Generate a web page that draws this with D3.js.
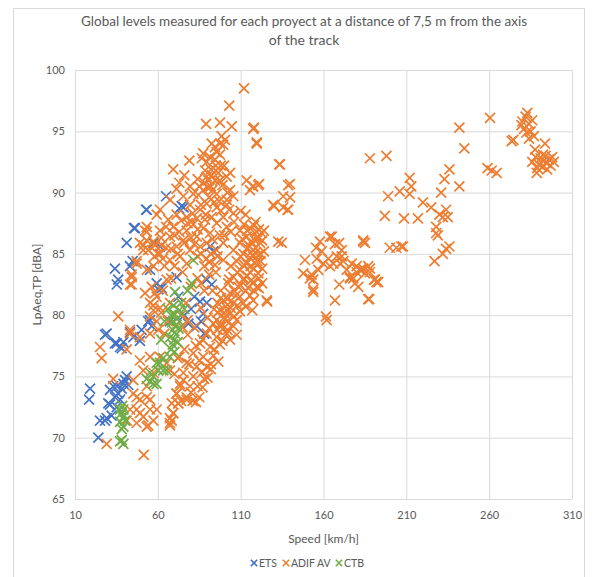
<!DOCTYPE html>
<html><head><meta charset="utf-8">
<script src="https://cdn.jsdelivr.net/npm/d3@7"></script>
<style>body{margin:0;background:#fff}svg{display:block}text{font-family:Lato,"Open Sans",sans-serif}</style>
</head><body><svg id="chart" width="593" height="577"></svg>
<script>
const titleLines = ["Global levels measured for each proyect at a distance of 7,5 m from the axis", "of the track"];
const xTitle = "Speed [km/h]";
const yTitle = "LpAeq,TP [dBA]";
const seriesNames = ["ETS", "ADIF AV", "CTB"];
const seriesColors = ["#4472C4", "#ED7D31", "#70AD47"];
const xTicks = [10, 60, 110, 160, 210, 260, 310];
const yTicks = [65, 70, 75, 80, 85, 90, 95, 100];

const ets = [[19.1,74.0],[18.5,73.1],[24.1,70.0],[25.1,71.4],[28.1,71.4],[29.1,71.6],[32.1,71.8],[30.1,72.8],[31.1,72.7],[34.1,73.3],[35.2,72.5],[37.2,73.1],[33.1,74.2],[31.1,73.9],[35.2,74.2],[38.2,74.0],[36.1,73.6],[39.2,74.4],[40.2,74.7],[41.2,75.0],[42.2,74.3],
[28.1,78.4],[29.1,78.5],[34.1,77.7],[35.2,77.7],[37.2,77.4],[38.2,77.3],[39.2,77.8],[43.2,78.6],[45.2,78.2],[49.2,77.9],[50.2,78.8],[54.2,79.5],[56.3,79.1],[55.3,79.6],
[34.1,83.8],[36.1,82.9],[35.2,82.5],[43.2,84.0],[44.8,84.4],[41.2,85.9],[45.6,87.1],[46.2,87.1],[52.9,88.6],[53.3,88.6],[57.3,85.9],[61.3,85.6],[55.3,83.7],[61.3,82.3],[60.3,82.1],[62.3,82.2],[59.3,82.6],[65.0,89.7],[74.4,88.9],[73.0,88.7],[75.5,88.8],
[71.3,83.1],[72.4,81.5],[67.3,79.5],[78.4,79.3],[83.5,79.1],[85.5,81.1],[89.5,81.0],[87.4,80.1],[89.5,82.9],[92.5,82.5],[93.5,85.2],[91.5,85.6],[80,80.5],[82,81.5],[76,80],[86,79.5],[88,78.5]];

const adif = [[25.1,77.4],[26.1,76.5],[29.1,69.5],[33.1,74.8],[36.1,79.9],[41.2,77.2],[43.2,78.5],[43.2,78.8],[49.2,78.2],[55.3,78.5],[49.2,76.3],[55.3,76.6],[51.2,75.5],[57.3,75.3],[45.2,74.7],[53.3,74.2],[47.2,73.3],[55.3,73.1],[43.2,72.3],[49.2,72.0],[55.3,72.3],[41.2,71.4],[47.2,71.2],[53.3,70.9],[51.5,68.6],[45.2,73.6],[49.2,73.1],[53.3,73.3],[47.2,72.3],[51.2,71.7],[57.3,71.4],[54.2,71.0],[59.3,72.3],[61.3,76.6],[65.3,76.1],[67.3,75.5],[67.3,71.6],[67.3,71.2],[68.4,72.8],[71.3,73.6],[73.4,74.2],[77.4,73.1],[75.4,74.7],[69.3,72.0],[72.3,72.8],
[59.3,88.2],[52.3,86.9],[53.3,86.8],[49.2,85.9],[54.2,85.3],[51.3,85.7],[57.3,86.0],[62.3,85.7],[47.2,84.2],[47.2,84.4],[44.2,83.3],[44.2,82.5],[43.2,82.5],[44.2,83.1],[52.3,81.8],[58.3,81.8],[55.3,81.0],[57.3,80.4],[59.3,79.5],[60.3,78.8],[57.3,84.0],[53.3,83.7],[56.3,82.3],[65.3,82.9],[59.3,81.5],[57.3,80.8],[61.3,80.6],[55.3,79.9],[67.3,81.0],[61.3,88.6],[53.3,87.2],[61.3,86.9],[53.3,86.1],[58.3,85.7],[51.2,85.3],[61.3,85.0],
[66.3,87.8],[71.3,88.2],[77.4,88.0],[83.5,87.9],[88.5,87.8],[92.5,88.0],[99.5,88.0],[105.6,88.3],[101.6,89.0],[95.5,88.8],[89.5,89.1],[85.5,88.6],[79.4,89.0],[69.3,87.2],[77.4,86.9],[81.4,87.4],[87.4,87.1],[91.5,86.7],[97.5,86.5],[101.6,87.2],[95.5,87.5],[67.3,86.4],[75.4,86.1],[83.5,86.4],[71.3,85.6],[79.4,85.3],[85.5,85.6],[89.5,85.9],[95.5,85.3],[99.5,85.9],[67.3,84.5],[73.4,84.8],[77.4,84.2],[89.5,84.6],[94.5,84.1],[99.5,84.5],[67.4,89.4],[71.3,90.3],[79.4,90.5],[81.4,89.9],[75.4,89.7],[84.4,89.8],[87.4,90.2],[103.6,90.2],[105.6,89.7],[101.6,89.4],[95.5,89.9],[88.5,91.8],[92.5,91.4],[94.5,91.0],[90.5,91.0],[97.5,91.0],[101.6,91.3],[103.6,91.6],[89.5,91.3],[96.5,91.6],[69.3,91.9],[79,92.6],[87.4,93.2],[91.5,92.9],[94.5,92.7],[89.5,92.5],[86.5,92.8],[97.5,93.1],[95.5,93.3],[98.5,94.6],[100.5,94.3],[97.5,94.0],[94.5,93.7],[99.5,93.9],[92.5,94.0],[89.1,95.6],[97.5,95.7],[104.6,95.4],[103.1,97.1],[112,98.5],[117.6,95.2],[119.7,94.0],[118,95.3],[119.7,94.1],[113.6,91.0],[117.6,90.5],[120.6,90.6],[115.6,90.2],[121.2,90.7],[117.3,90.5],[73,86.8],[80,87.6],[86,85.0],[91,84.3],[93,86.2],[63,84.6],[65,85.5],[70,84.0],[75,83.5],[82,85.8],[98,92.2],[93,90.2],[91,89.6],[99,90.6],[92,91.9],[95,92.2],[90,90.4],[97,89.3],[98,88.5],[103,88.6],[84,91.1],[86,89.0],[81,88.3],[73,90.8],[76,91.4],
[85,90.5],[88,90.8],[92,90.5],[95,91.8],[100,92.2],[102,90.0],[94,89.2],[89,88.2],[84,87.0],[78,87.5],[74,87.7],[70,86.5],[65,87.2],[62,86.3],[60,85.0],[58,84.8],[64,84.0],[68,85.4],[72,85.0],[76,85.9],[80,86.3],[84,84.8],[88,84.0],[92,85.0],[96,84.8],[100,86.5],[104,86.8],[106,87.6],
[109.6,86.9],[115.6,87.1],[119.7,86.8],[122.7,86.7],[113.6,86.4],[118.6,86.1],[121.7,85.9],[109.6,85.9],[115.6,85.6],[105.6,85.3],[111.6,85.0],[117.6,84.8],[120.6,84.9],[113.6,84.2],[119.7,84.1],[107.6,84.4],[109.6,83.7],[115.6,83.5],[120.6,83.4],[105.6,83.1],[111.6,82.9],[117.6,82.7],[102.5,82.6],[108.6,82.3],[114.6,82.2],[119.7,82.3],[103.6,81.8],[109.6,81.5],[115.6,81.6],[99.5,81.2],[105.6,81.0],[111.6,81.0],[117.6,81.2],[97.5,80.4],[103.6,80.1],[109.6,80.3],[95.5,79.6],[101.6,79.5],[107.6,79.6],[99.5,78.9],[105.6,79.1],[125.7,81.2],[132.7,86.0],[118,87.3],[121,87.0],[116,86.0],[112,83.0],[106,82.0],[100,80.2],[114,85.5],[118,83.8],[121,83.0],[104,84.0],[98,82.0],[96,81.0],[102,81.3],[110,84.8],[122,85.0],[116,82.8],[120,86.3],[108,80.8],[113,82.0],[111,86.2],[115.6,84.7],[117,85.9],[119,85.1],[122,84.4],[123,82.6],[118,82.0],[101,80.7],[103,82.9],
[112,87.4],[114,86.9],[119,87.6],[123,86.1],[124,85.2],[120,84.4],[116,84.0],[114,83.2],[110,82.4],[107,81.6],[104,80.6],[106,79.9],[100,79.8],[98,79.3],[102,78.8],[96,78.8],[99,77.9],[94,77.2],[92,75.6],[90,74.9],[87,74.1],[85,73.3],[83,72.9],[81,73.0],[96,80.2],[98,81.4],[112,84.1],[116,85.1],[123,83.8],[121,82.2],[117,80.4],[113,80.7],[108,83.5],[124,86.9],[110,88.5],[113,88.2],
[93.5,79.3],[97.5,79.1],[89.5,78.5],[95.5,78.2],[101.6,78.5],[107.6,78.4],[85.5,77.7],[91.5,77.4],[97.5,77.6],[103.6,78.0],[81.4,76.9],[87.4,76.6],[93.5,76.7],[96.5,76.2],[77.4,76.1],[83.5,75.8],[89.5,75.8],[75.4,75.3],[81.4,75.0],[86.5,75.3],[73.4,74.4],[79.4,74.2],[71.3,73.6],[77.4,73.3],[72.3,72.8],[69.3,72.0],[68.4,71.4],[67.3,71.0],[91,78.9],[87,78.0],[85,76.3],[79,76.0],[92,76.0],[88,74.8],[84,74.2],[80,73.7],[74,73.0],[90,79.8],[94,80.5],[86,80.6],[82,79.0],[78,78.4],[76,77.2],[83,77.5],[73,76.6],[70,75.2],[88,82.0],[84,83.0],[80,82.3],[77,81.0],[91,83.3],[86,82.6],[74,80.0],[78,79.6],[95,83.5],[93,82.0],
[62,80.2],[64,78.5],[66,79.5],[72,76.5],[75,79.0],[63,82.0],[68,83.0],
[133.3,92.3],[130.1,88.9],[138.2,88.6],[129.7,89.0],[135.7,88.8],[138.7,88.6],[139.8,90.7],[138.7,90.6],[135.7,89.7],[139.8,89.6],[133.7,92.3],[126,81.1],[121,86.3],[119,85.5],[134.8,85.9],
[157.9,86.0],[163.9,86.4],[166.9,85.8],[171,85.3],[168,84.8],[169.5,85.9],[165,86.4],[158.9,85.2],[155.5,85.5],[148.8,84.5],[155.9,84.6],[159.9,84.2],[147.8,83.4],[152.8,83.3],[156.9,83.7],[151.8,83.0],[153.8,82.9],[163.9,84.0],[162.9,84.6],[170,84.2],[166,84.2],[171,84.8],[172,84.4],[174,83.7],[153.8,81.9],[153.8,82.1],[166.9,81.2],[161.5,79.9],[161.9,79.6],[169.5,82.5],[176,83.1],[177,84.2],[180,83.5],[180,84.0],[182,83.7],[183,83.7],[184,83.8],[185,83.4],[187,84],[188,83.5],[188,83.8],[184,86.1],[185,85.9],[184,86.0],[192,82.7],[190.5,82.9],[193,82.7],[191,82.9],[187.6,81.3],[187,81.3],[178,83.0],[181,82.3],[179,82.6],[176,83.0],
[188,92.8],[198,93.0],[197,88.1],[199,89.7],[206,90.1],[212,91.2],[213,90.5],[212,89.9],[208.6,87.9],[217,87.9],[200,85.5],[204,85.5],[208,85.6],[207,85.6],[220,89.2],[225,88.8],[230,88.2],[234,88.6],[235,88.0],[232,88.0],[228,87.2],[229,86.5],[236,85.6],[234,85.4],[232,85.0],[227,84.4],[228,86.7],[231,90],[233,91.1],[236,91.9],[242,90.5],[242,95.3],[245,93.6],[260.5,96.1],[259,92],[264.5,91.6],[261.5,91.8],[274.6,94.3],[273.6,94.2],
[280,95.8],[282,96.2],[284,95.6],[281,95.2],[283,96.5],[285,95.0],[286,95.9],[279.5,95.5],[282.5,94.9],[287,94.6],[284,94.4],[287.7,93.5],[293.7,94],
[286,92.5],[288,92.9],[290,92.3],[291,92.8],[292,92.1],[293,92.6],[294,93.0],[295,92.4],[296,92.7],[297,92.2],[298,92.9],[299,92.5],[289,92.0],[292.5,93.1],[295,91.9],[288.7,91.6]];

const ctb = [[37.2,69.7],[38.2,69.8],[39.2,69.5],[38.2,70.7],[39.2,70.9],[37.2,71.3],[40.2,71.4],[39.2,71.7],[38.2,72.0],[37.2,72.3],[39.2,72.3],[38.5,72.6],
[53.3,74.8],[55.3,74.6],[55.3,75.3],[57.3,75.0],[57.3,74.4],[59.3,74.4],[60.3,75.5],[63.3,75.5],[61.3,76.1],[59.3,76.1],[63.3,76.5],[67.3,76.6],[65.3,75.5],
[68,77.2],[69,77.6],[70,78.0],[71,78.4],[69,78.8],[70.5,79.1],[68.5,79.4],[71.5,79.7],[70,80.1],[69.3,79.5],[71.3,79.2],[72,77.8],[67.5,78.2],[70,77.0],[72.5,78.9],[73,80.4],[68,80.0],[69.5,80.8],
[70.4,81.9],[74,81.0],[80.4,82.6],[81.4,84.5],[78,82],[76,80.5],[62,78],[64,79.5],[66,80.5]];

const seriesData = [ets, adif, ctb];

const svg = d3.select("#chart");
const W = 593, H = 577;
const m = {left: 75, right: 572, top: 70, bottom: 499};
const grid = "#d9d9d9", txt = "#595959";

svg.append("rect").attr("width", W).attr("height", H).attr("fill", "#fff");
svg.append("rect").attr("x", 13.5).attr("y", 8.5).attr("width", 571).attr("height", 590)
  .attr("fill", "none").attr("stroke", grid);

const x = d3.scaleLinear().domain([10, 310]).range([m.left, m.right]);
const y = d3.scaleLinear().domain([65, 100]).range([m.bottom, m.top]);

const gx = svg.append("g").attr("transform", `translate(0,${m.bottom})`)
  .call(d3.axisBottom(x).tickValues(xTicks).tickSize(-(m.bottom - m.top)).tickFormat(d => d).tickPadding(12));
gx.select(".domain").remove();
gx.selectAll("line").attr("stroke", grid);
gx.selectAll("text").attr("fill", txt).style("font-size", "11px");

const gy = svg.append("g").attr("transform", `translate(${m.left},0)`)
  .call(d3.axisLeft(y).tickValues(yTicks).tickSize(-(m.right - m.left)).tickFormat(d => d).tickPadding(10));
gy.select(".domain").remove();
gy.selectAll("line").attr("stroke", grid);
gy.selectAll("text").attr("fill", txt).style("font-size", "11px");

const r = 5;
const xPath = s => `M${-s},${-s}L${s},${s}M${-s},${s}L${s},${-s}`;
seriesData.forEach((data, i) => {
  svg.append("g").selectAll("path").data(data).join("path")
    .attr("d", xPath(r))
    .attr("transform", d => `translate(${x(d[0])},${y(d[1])})`)
    .attr("fill", "none").attr("stroke", seriesColors[i]).attr("stroke-width", 1.7);
});

titleLines.forEach((t, i) => {
  const el = svg.append("text").attr("x", 304).attr("y", 26 + i * 19).attr("text-anchor", "middle")
    .attr("fill", txt).style("font-size", "14px").text(t);
  if (i === 0) el.attr("textLength", 446).attr("lengthAdjust", "spacingAndGlyphs");
});

svg.append("text").attr("x", (m.left + m.right) / 2).attr("y", 543).attr("text-anchor", "middle")
  .attr("fill", txt).style("font-size", "12px").text(xTitle);
svg.append("text").attr("transform", `translate(41,${(m.top + m.bottom) / 2}) rotate(-90)`)
  .attr("text-anchor", "middle").attr("fill", txt).style("font-size", "12px").text(yTitle);

const legend = svg.append("g");
const legX = [254, 286, 339];
seriesNames.forEach((n, i) => {
  legend.append("path").attr("d", xPath(3.2)).attr("transform", `translate(${legX[i]},${563})`)
    .attr("fill", "none").attr("stroke", seriesColors[i]).attr("stroke-width", 1.6);
  legend.append("text").attr("x", legX[i] + 5).attr("y", 567).attr("fill", txt)
    .style("font-size", "10.5px").text(n);
});
</script></body></html>
